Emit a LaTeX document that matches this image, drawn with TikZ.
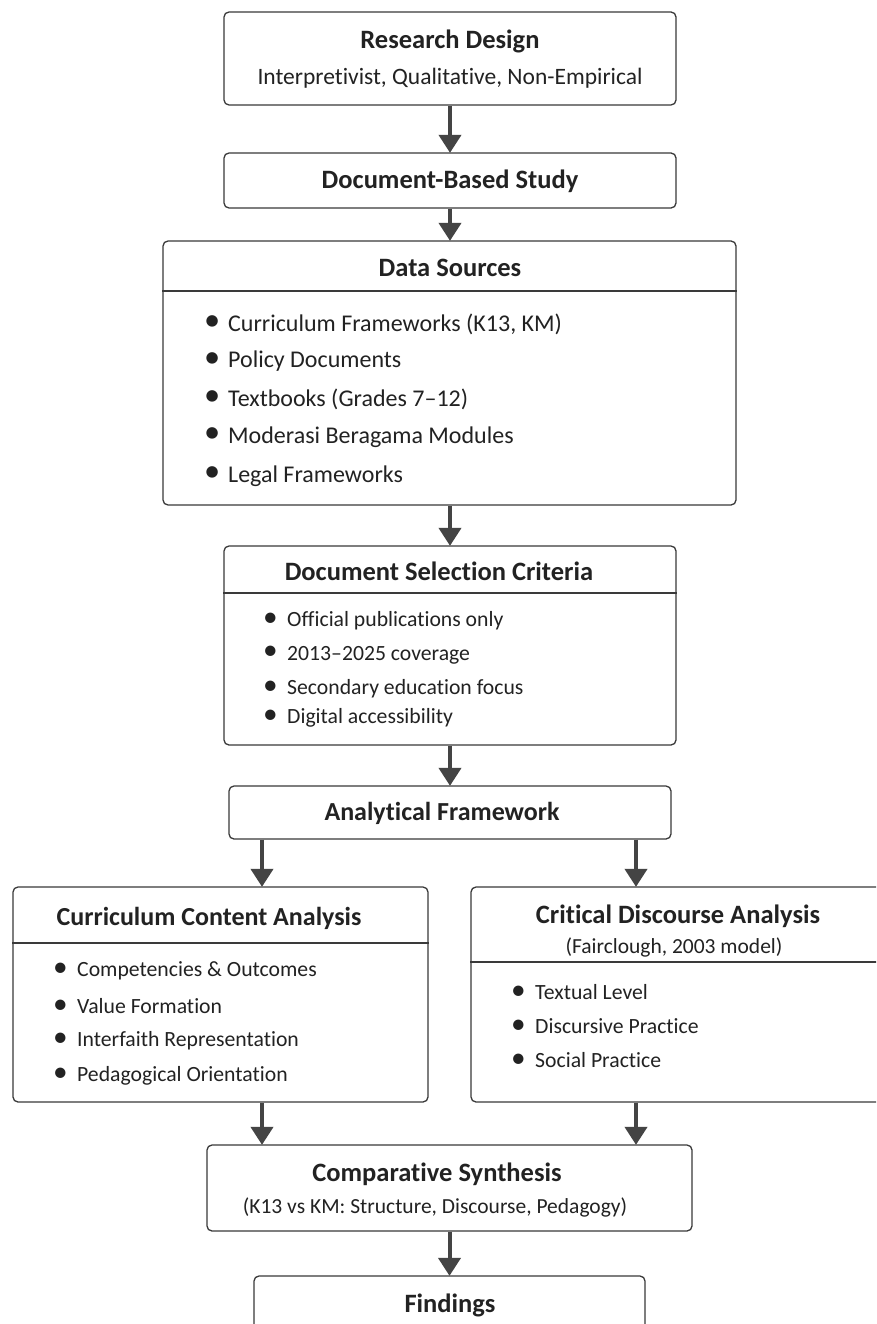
\documentclass[tikz,border=0pt]{standalone}
\usepackage{fontspec}
\setmainfont{Carlito}[RawFeature={-liga}]
\usetikzlibrary{arrows.meta}
\definecolor{edge}{HTML}{3A3A3A}
\definecolor{arrowc}{HTML}{444444}
\definecolor{ink}{HTML}{222222}
\newcommand{\bul}{\makebox[24pt][l]{\raisebox{0.3pt}{\scalebox{1.35}{•}}}}
\tikzset{
  x=1pt, y=-1pt,
  box/.style={draw=edge, line width=1.3pt, rounded corners=5pt, fill=white, inner sep=0pt},
  rule/.style={draw=edge, line width=1.3pt},
  flow/.style={draw=arrowc, line width=4pt, -{Triangle[length=18pt,width=22pt]}, shorten >=-0.5pt},
  ttl/.style={font=\bfseries\fontsize{26.5}{30}\selectfont, text=ink, inner sep=0pt},
  sub/.style={font=\fontsize{21.5}{25}\selectfont, text=ink, inner sep=0pt},
  itm/.style={font=\fontsize{24}{28}\selectfont, text=ink, anchor=west, inner sep=0pt},
  sitm/.style={font=\fontsize{21.7}{25}\selectfont, text=ink, anchor=west, inner sep=0pt},
}
\begin{document}
\begin{tikzpicture}
\fill[white] (0,0) rectangle (876,1324);
\useasboundingbox (0,0) rectangle (876,1324);
\clip (0,0) rectangle (876,1324);

% boxes
\node[box, minimum width=452pt, minimum height=93pt] (rd)  at (450,58.5) {};
\node[box, minimum width=452pt, minimum height=55pt] (dbs) at (450,180.5) {};
\node[box, minimum width=573pt, minimum height=264pt] (ds) at (449.5,373) {};
\node[box, minimum width=452pt, minimum height=199pt] (dsc) at (450,645.5) {};
\node[box, minimum width=442pt, minimum height=53pt] (af) at (450,812.5) {};
\node[box, minimum width=415pt, minimum height=215pt] (cca) at (220.5,994.5) {};
\node[box, minimum width=412pt, minimum height=215pt] (cda) at (677,994.5) {};
\node[box, minimum width=485pt, minimum height=86pt] (cs) at (449.5,1188) {};
\node[box, minimum width=391pt, minimum height=100pt] (fd) at (449.5,1326) {};

% header rules
\draw[rule] (ds.west |- 0,291) -- (ds.east |- 0,291);
\draw[rule] (dsc.west |- 0,593) -- (dsc.east |- 0,593);
\draw[rule] (cca.west |- 0,943) -- (cca.east |- 0,943);
\draw[rule] (cda.west |- 0,962) -- (cda.east |- 0,962);

% texts
\node[ttl] (rdt) at (450,41) {Research Design};
\node[sub, font=\fontsize{23.5}{27}\selectfont] (rds) at (450,78) {Interpretivist, Qualitative, Non-Empirical};
\node[ttl] (dbst) at (450,181) {Document-Based Study};

\node[ttl] (dst) at (450,268) {Data Sources};
\node[itm] (ds1) at (204,324) {\bul Curriculum Frameworks (K13, KM)};
\node[itm] (ds2) at (204,361) {\bul Policy Documents};
\node[itm] (ds3) at (204,399) {\bul Textbooks (Grades 7–12)};
\node[itm] (ds4) at (204,437) {\bul Moderasi Beragama Modules};
\node[itm] (ds5) at (204,476) {\bul Legal Frameworks};

\node[ttl] (dsct) at (439,571) {Document Selection Criteria};
\node[sitm] (dsc1) at (263,621) {\bul Official publications only};
\node[sitm] (dsc2) at (263,655) {\bul 2013–2025 coverage};
\node[sitm] (dsc3) at (263,689) {\bul Secondary education focus};
\node[sitm] (dsc4) at (263,718) {\bul Digital accessibility};

\node[ttl, font=\bfseries\fontsize{26}{30}\selectfont] (aft) at (442,813) {Analytical Framework};

\node[ttl, font=\bfseries\fontsize{26}{30}\selectfont] (ccat) at (209,918) {Curriculum Content Analysis};
\node[sitm] (cca1) at (53,971) {\bul Competencies \& Outcomes};
\node[sitm] (cca2) at (53,1006) {\bul Value Formation};
\node[sitm] (cca3) at (53,1041) {\bul Interfaith Representation};
\node[sitm] (cca4) at (53,1076) {\bul Pedagogical Orientation};

\node[ttl] (cdat) at (678,916) {Critical Discourse Analysis};
\node[sub] (cdas) at (674,947) {(Fairclough, 2003 model)};
\node[sitm] (cda1) at (511,992) {\bul Textual Level};
\node[sitm] (cda2) at (511,1026) {\bul Discursive Practice};
\node[sitm] (cda3) at (511,1060) {\bul Social Practice};

\node[ttl] (cst) at (437,1174) {Comparative Synthesis};
\node[sub] (css) at (435,1207) {(K13 vs KM: Structure, Discourse, Pedagogy)};

\node[ttl] (fdt) at (450,1305) {Findings};

% connectors
\draw[flow] (rd.south) -- (dbs.north);
\draw[flow] (dbs.south) -- (ds.north -| dbs.south);
\draw[flow] (ds.south -| dsc.north) -- (dsc.north);
\draw[flow] (dsc.south) -- (af.north);
\draw[flow] (af.south -| 262,0) -- (cca.north -| 262,0);
\draw[flow] (af.south -| 636,0) -- (cda.north -| 636,0);
\draw[flow] (cca.south -| 262,0) -- (cs.north -| 262,0);
\draw[flow] (cda.south -| 636,0) -- (cs.north -| 636,0);
\draw[flow] (cs.south -| fd.north) -- (fd.north);
\end{tikzpicture}
\end{document}
